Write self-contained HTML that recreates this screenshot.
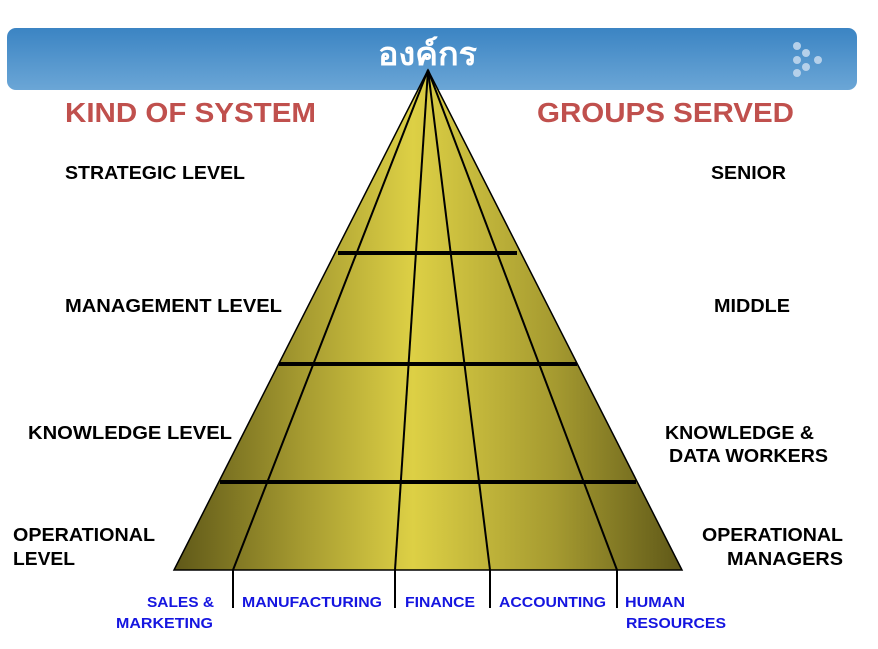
<!DOCTYPE html>
<html><head><meta charset="utf-8"><style>
body{margin:0;background:#fff;width:878px;height:649px;overflow:hidden;font-family:"Liberation Sans",Arial,sans-serif}
</style></head><body>
<svg width="878" height="649" xmlns="http://www.w3.org/2000/svg" style="position:absolute;left:0;top:0">
<defs>
<linearGradient id="bn" x1="0" y1="0" x2="0" y2="1"><stop offset="0" stop-color="#3b84c3"/><stop offset="1" stop-color="#6ba6d6"/></linearGradient>
<linearGradient id="py" x1="174" y1="0" x2="682" y2="0" gradientUnits="userSpaceOnUse">
<stop offset="0" stop-color="#5f5818"/><stop offset="0.25" stop-color="#a59a30"/><stop offset="0.47" stop-color="#ddd045"/><stop offset="0.75" stop-color="#a59a30"/><stop offset="1" stop-color="#5f5818"/></linearGradient>
</defs>
<rect x="7" y="28" width="850" height="62" rx="9" fill="url(#bn)"/>
<g fill="#b5d0ea"><circle cx="797" cy="46" r="4"/><circle cx="806" cy="53" r="4"/><circle cx="797" cy="60" r="4"/><circle cx="818" cy="60" r="4"/><circle cx="806" cy="67" r="4"/><circle cx="797" cy="73" r="4"/></g>
<text x="378" y="65" textLength="99" lengthAdjust="spacingAndGlyphs" font-family="'Liberation Sans','Noto Sans CJK SC',sans-serif" font-weight="bold" font-size="32" fill="#fff">องค์กร</text>
<polygon points="428,70 174,570 682,570" fill="url(#py)" stroke="#000" stroke-width="1.5"/>
<g stroke="#000" stroke-width="2" fill="none">
<line x1="428" y1="70" x2="233" y2="570"/><line x1="428" y1="70" x2="395" y2="570"/>
<line x1="428" y1="70" x2="490" y2="570"/><line x1="428" y1="70" x2="617" y2="570"/>
<line x1="233" y1="570" x2="233" y2="608"/><line x1="395" y1="570" x2="395" y2="608"/>
<line x1="490" y1="570" x2="490" y2="608"/><line x1="617" y1="570" x2="617" y2="608"/>
</g>
<g stroke="#000" stroke-width="4">
<line x1="338" y1="253" x2="517" y2="253"/><line x1="279" y1="364" x2="577" y2="364"/><line x1="220" y1="482" x2="636" y2="482"/>
</g>
<g font-weight="bold" font-size="28" fill="#c0504d" lengthAdjust="spacingAndGlyphs">
<text x="65" y="122" textLength="251" lengthAdjust="spacingAndGlyphs">KIND OF SYSTEM</text><text x="537" y="122" textLength="257" lengthAdjust="spacingAndGlyphs">GROUPS SERVED</text></g>
<g font-weight="bold" font-size="18" fill="#000">
<text x="65" y="179" textLength="180" lengthAdjust="spacingAndGlyphs">STRATEGIC LEVEL</text>
<text x="65" y="312" textLength="217" lengthAdjust="spacingAndGlyphs">MANAGEMENT  LEVEL</text>
<text x="28" y="439" textLength="204" lengthAdjust="spacingAndGlyphs">KNOWLEDGE  LEVEL</text>
<text x="13" y="541" textLength="142" lengthAdjust="spacingAndGlyphs">OPERATIONAL</text><text x="13" y="565" textLength="62" lengthAdjust="spacingAndGlyphs">LEVEL</text>
<text x="711" y="179" textLength="75" lengthAdjust="spacingAndGlyphs">SENIOR</text>
<text x="714" y="312" textLength="76" lengthAdjust="spacingAndGlyphs">MIDDLE</text>
<text x="665" y="439" textLength="149" lengthAdjust="spacingAndGlyphs">KNOWLEDGE &amp;</text><text x="669" y="462" textLength="159" lengthAdjust="spacingAndGlyphs">DATA WORKERS</text>
<text x="702" y="541" textLength="141" lengthAdjust="spacingAndGlyphs">OPERATIONAL</text><text x="727" y="565" textLength="116" lengthAdjust="spacingAndGlyphs">MANAGERS</text>
</g>
<g font-weight="bold" font-size="15" fill="#1515e0">
<text x="147" y="607" textLength="67" lengthAdjust="spacingAndGlyphs">SALES &amp;</text><text x="116" y="628" textLength="97" lengthAdjust="spacingAndGlyphs">MARKETING</text>
<text x="242" y="607" textLength="140" lengthAdjust="spacingAndGlyphs">MANUFACTURING</text>
<text x="405" y="607" textLength="70" lengthAdjust="spacingAndGlyphs">FINANCE</text>
<text x="499" y="607" textLength="107" lengthAdjust="spacingAndGlyphs">ACCOUNTING</text>
<text x="625" y="607" textLength="60" lengthAdjust="spacingAndGlyphs">HUMAN</text><text x="626" y="628" textLength="100" lengthAdjust="spacingAndGlyphs">RESOURCES</text>
</g>
</svg>
</body></html>
